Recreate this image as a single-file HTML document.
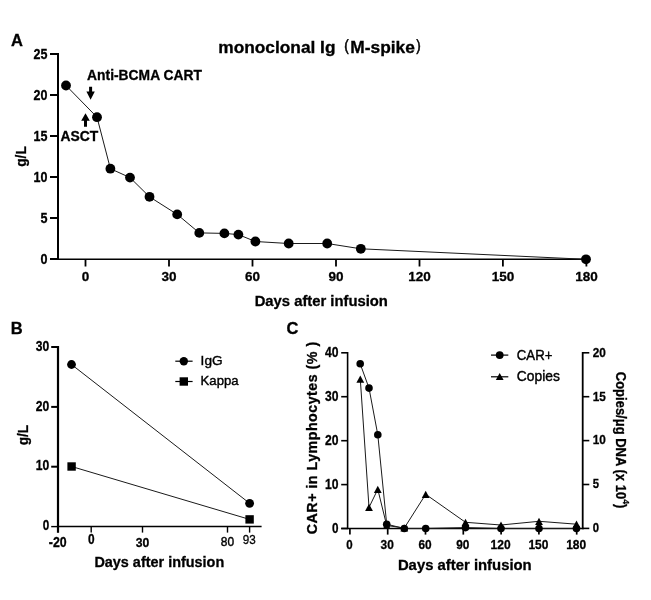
<!DOCTYPE html>
<html lang="en">
<head>
<meta charset="utf-8">
<title>monoclonal Ig (M-spike) figure</title>
<style>
html, body { margin: 0; padding: 0; background: #ffffff; }
body { width: 651px; height: 600px; overflow: hidden; }
svg { display: block; will-change: transform; }
svg text { font-family: "Liberation Sans", sans-serif; fill: #000; }
svg text[font-weight="bold"] { stroke: #000; stroke-width: 0.3px; }
</style>
</head>
<body>
<svg width="651" height="600" viewBox="0 0 651 600">
<rect x="0" y="0" width="651" height="600" fill="#ffffff"/>
<g id="panelA">
<text x="11.0" y="45.8" font-size="16.5" font-weight="bold" text-anchor="start">A</text>
<text x="218.3" y="53" font-size="16" font-weight="bold" text-anchor="start" textLength="117.2" lengthAdjust="spacingAndGlyphs">monoclonal Ig</text>
<text x="333.9" y="51.2" font-size="17" font-weight="normal" stroke="#000" stroke-width="0.5" font-family="&quot;Liberation Sans&quot;, &quot;Noto Sans CJK SC&quot;, sans-serif">（</text>
<text x="350.3" y="53" font-size="16" font-weight="bold" text-anchor="start" textLength="64.5" lengthAdjust="spacingAndGlyphs">M-spike</text>
<text x="414.4" y="51.2" font-size="17" font-weight="normal" stroke="#000" stroke-width="0.5" font-family="&quot;Liberation Sans&quot;, &quot;Noto Sans CJK SC&quot;, sans-serif">）</text>
<line x1="58" y1="53" x2="58" y2="260" stroke="#000" stroke-width="2" stroke-linecap="butt"/>
<line x1="50" y1="259.0" x2="58" y2="259.0" stroke="#000" stroke-width="2" stroke-linecap="butt"/>
<text x="47.4" y="263.8" font-size="14" font-weight="bold" text-anchor="end" textLength="7.0" lengthAdjust="spacingAndGlyphs">0</text>
<line x1="50" y1="218.0" x2="58" y2="218.0" stroke="#000" stroke-width="2" stroke-linecap="butt"/>
<text x="47.4" y="222.8" font-size="14" font-weight="bold" text-anchor="end" textLength="7.0" lengthAdjust="spacingAndGlyphs">5</text>
<line x1="50" y1="177.0" x2="58" y2="177.0" stroke="#000" stroke-width="2" stroke-linecap="butt"/>
<text x="47.4" y="181.8" font-size="14" font-weight="bold" text-anchor="end" textLength="13.9" lengthAdjust="spacingAndGlyphs">10</text>
<line x1="50" y1="136.0" x2="58" y2="136.0" stroke="#000" stroke-width="2" stroke-linecap="butt"/>
<text x="47.4" y="140.8" font-size="14" font-weight="bold" text-anchor="end" textLength="13.9" lengthAdjust="spacingAndGlyphs">15</text>
<line x1="50" y1="95.0" x2="58" y2="95.0" stroke="#000" stroke-width="2" stroke-linecap="butt"/>
<text x="47.4" y="99.8" font-size="14" font-weight="bold" text-anchor="end" textLength="13.9" lengthAdjust="spacingAndGlyphs">20</text>
<line x1="50" y1="54.00000000000003" x2="58" y2="54.00000000000003" stroke="#000" stroke-width="2" stroke-linecap="butt"/>
<text x="47.4" y="58.8" font-size="14" font-weight="bold" text-anchor="end" textLength="13.9" lengthAdjust="spacingAndGlyphs">25</text>
<line x1="57" y1="259.3" x2="587" y2="259.3" stroke="#000" stroke-width="1.6" stroke-linecap="butt"/>
<line x1="85.5" y1="259" x2="85.5" y2="266.5" stroke="#000" stroke-width="1.8" stroke-linecap="butt"/>
<text x="85.5" y="280.9" font-size="13.5" font-weight="bold" text-anchor="middle">0</text>
<line x1="169.0" y1="259" x2="169.0" y2="266.5" stroke="#000" stroke-width="1.8" stroke-linecap="butt"/>
<text x="169.0" y="280.9" font-size="13.5" font-weight="bold" text-anchor="middle">30</text>
<line x1="252.5" y1="259" x2="252.5" y2="266.5" stroke="#000" stroke-width="1.8" stroke-linecap="butt"/>
<text x="252.5" y="280.9" font-size="13.5" font-weight="bold" text-anchor="middle">60</text>
<line x1="336.0" y1="259" x2="336.0" y2="266.5" stroke="#000" stroke-width="1.8" stroke-linecap="butt"/>
<text x="336.0" y="280.9" font-size="13.5" font-weight="bold" text-anchor="middle">90</text>
<line x1="419.5" y1="259" x2="419.5" y2="266.5" stroke="#000" stroke-width="1.8" stroke-linecap="butt"/>
<text x="419.5" y="280.9" font-size="13.5" font-weight="bold" text-anchor="middle">120</text>
<line x1="502.9" y1="259" x2="502.9" y2="266.5" stroke="#000" stroke-width="1.8" stroke-linecap="butt"/>
<text x="502.9" y="280.9" font-size="13.5" font-weight="bold" text-anchor="middle">150</text>
<line x1="586.4" y1="259" x2="586.4" y2="266.5" stroke="#000" stroke-width="1.8" stroke-linecap="butt"/>
<text x="586.4" y="280.9" font-size="13.5" font-weight="bold" text-anchor="middle">180</text>
<text x="25.7" y="166.8" font-size="15" font-weight="bold" text-anchor="start" textLength="20.6" lengthAdjust="spacingAndGlyphs" transform="rotate(-90 25.7 166.8)">g/L</text>
<text x="254.7" y="306.1" font-size="14" font-weight="bold" text-anchor="start" textLength="133.2" lengthAdjust="spacingAndGlyphs">Days after infusion</text>
<polyline points="66,85.5 97,117.2 110.4,168.7 130,177.6 149.5,196.8 177.2,214.4 199.3,232.9 224.4,233.4 238.4,234.6 255.4,241.5 288.7,243.5 327.2,243.5 360.8,248.8 586,259.3" fill="none" stroke="#1a1a1a" stroke-width="1.0" stroke-linejoin="round"/>
<circle cx="66" cy="85.5" r="4.9"/>
<circle cx="97" cy="117.2" r="4.9"/>
<circle cx="110.4" cy="168.7" r="4.9"/>
<circle cx="130" cy="177.6" r="4.9"/>
<circle cx="149.5" cy="196.8" r="4.9"/>
<circle cx="177.2" cy="214.4" r="4.9"/>
<circle cx="199.3" cy="232.9" r="4.9"/>
<circle cx="224.4" cy="233.4" r="4.9"/>
<circle cx="238.4" cy="234.6" r="4.9"/>
<circle cx="255.4" cy="241.5" r="4.9"/>
<circle cx="288.7" cy="243.5" r="4.9"/>
<circle cx="327.2" cy="243.5" r="4.9"/>
<circle cx="360.8" cy="248.8" r="4.9"/>
<circle cx="586" cy="259.3" r="4.9"/>
<text x="87.1" y="79.8" font-size="14" font-weight="bold" text-anchor="start" textLength="114.8" lengthAdjust="spacingAndGlyphs">Anti-BCMA CART</text>
<text x="60.5" y="140.8" font-size="14" font-weight="bold" text-anchor="start" textLength="37.8" lengthAdjust="spacingAndGlyphs">ASCT</text>
<polygon points="89.1,86.7 92.1,86.7 92.1,91.5 94.8,91.5 90.6,99.8 86.4,91.5 89.1,91.5"/>
<polygon points="84,126.8 87,126.8 87,120.8 89.8,120.8 85.5,113.3 81.2,120.8 84,120.8"/>
</g>
<g id="panelB">
<text x="10.8" y="333.8" font-size="16.5" font-weight="bold" text-anchor="start">B</text>
<line x1="58" y1="346" x2="58" y2="532.8" stroke="#000" stroke-width="2.2" stroke-linecap="butt"/>
<line x1="51.2" y1="347.0" x2="58" y2="347.0" stroke="#000" stroke-width="2" stroke-linecap="butt"/>
<text x="49.2" y="350.7" font-size="14" font-weight="bold" text-anchor="end" textLength="13.5" lengthAdjust="spacingAndGlyphs">30</text>
<line x1="51.2" y1="406.9" x2="58" y2="406.9" stroke="#000" stroke-width="2" stroke-linecap="butt"/>
<text x="49.2" y="410.6" font-size="14" font-weight="bold" text-anchor="end" textLength="13.5" lengthAdjust="spacingAndGlyphs">20</text>
<line x1="51.2" y1="466.7" x2="58" y2="466.7" stroke="#000" stroke-width="2" stroke-linecap="butt"/>
<text x="49.2" y="470.4" font-size="14" font-weight="bold" text-anchor="end" textLength="13.5" lengthAdjust="spacingAndGlyphs">10</text>
<line x1="51.2" y1="526.6" x2="58" y2="526.6" stroke="#000" stroke-width="1.4" stroke-linecap="butt"/>
<text x="49.2" y="530.3" font-size="14" font-weight="bold" text-anchor="end" textLength="6.5" lengthAdjust="spacingAndGlyphs">0</text>
<line x1="57" y1="526.6" x2="261.6" y2="526.6" stroke="#000" stroke-width="1.5" stroke-linecap="butt"/>
<line x1="91.2" y1="526.6" x2="91.2" y2="532.6" stroke="#000" stroke-width="1.4" stroke-linecap="butt"/>
<line x1="142.5" y1="526.6" x2="142.5" y2="532.6" stroke="#000" stroke-width="1.4" stroke-linecap="butt"/>
<line x1="227.5" y1="526.6" x2="227.5" y2="532.6" stroke="#000" stroke-width="1.4" stroke-linecap="butt"/>
<line x1="249.6" y1="526.6" x2="249.6" y2="532.6" stroke="#000" stroke-width="1.4" stroke-linecap="butt"/>
<text x="48.8" y="546.6" font-size="14" font-weight="bold" text-anchor="start" textLength="17.8" lengthAdjust="spacingAndGlyphs">-20</text>
<text x="91.3" y="543.5" font-size="14" font-weight="bold" text-anchor="middle" textLength="6.6" lengthAdjust="spacingAndGlyphs">0</text>
<text x="142.6" y="546.5" font-size="13.6" font-weight="bold" text-anchor="middle" textLength="13.6" lengthAdjust="spacingAndGlyphs">30</text>
<text x="227.4" y="546" font-size="13.6" font-weight="normal" text-anchor="middle" textLength="13.3" lengthAdjust="spacingAndGlyphs" stroke="#000" stroke-width="0.45">80</text>
<text x="249.3" y="543.7" font-size="13.6" font-weight="normal" text-anchor="middle" textLength="13" lengthAdjust="spacingAndGlyphs" stroke="#000" stroke-width="0.3">93</text>
<text x="28.2" y="445.3" font-size="15" font-weight="bold" text-anchor="start" textLength="20.4" lengthAdjust="spacingAndGlyphs" transform="rotate(-90 28.2 445.3)">g/L</text>
<text x="94.4" y="567.1" font-size="14.6" font-weight="bold" text-anchor="start" textLength="129.8" lengthAdjust="spacingAndGlyphs">Days after infusion</text>
<polyline points="71.5,364.5 249.6,503.3" fill="none" stroke="#1a1a1a" stroke-width="1.0" stroke-linejoin="round"/>
<polyline points="71.6,466.5 249.6,519.4" fill="none" stroke="#1a1a1a" stroke-width="1.0" stroke-linejoin="round"/>
<circle cx="71.5" cy="364.5" r="4.4"/>
<circle cx="249.6" cy="503.3" r="4.4"/>
<rect x="67.39999999999999" y="462.3" width="8.4" height="8.4"/>
<rect x="245.4" y="515.1999999999999" width="8.4" height="8.4"/>
<line x1="175.3" y1="361.2" x2="192.6" y2="361.2" stroke="#000" stroke-width="1.2" stroke-linecap="butt"/>
<circle cx="183.8" cy="361.2" r="4.2"/>
<text x="200.6" y="365" font-size="13.6" font-weight="normal" text-anchor="start" textLength="22" lengthAdjust="spacingAndGlyphs" stroke="#000" stroke-width="0.4">IgG</text>
<line x1="175.3" y1="381.5" x2="192.6" y2="381.5" stroke="#000" stroke-width="1.2" stroke-linecap="butt"/>
<rect x="179.60000000000002" y="377.3" width="8.4" height="8.4"/>
<text x="200.6" y="385.3" font-size="13.6" font-weight="normal" text-anchor="start" textLength="38" lengthAdjust="spacingAndGlyphs" stroke="#000" stroke-width="0.4">Kappa</text>
</g>
<g id="panelC">
<text x="286.5" y="333.9" font-size="16.5" font-weight="bold" text-anchor="start">C</text>
<line x1="347.6" y1="352" x2="347.6" y2="529.2" stroke="#000" stroke-width="1.6" stroke-linecap="butt"/>
<line x1="341.2" y1="352.8" x2="347.6" y2="352.8" stroke="#000" stroke-width="1.6" stroke-linecap="butt"/>
<text x="338.4" y="356.9" font-size="13.8" font-weight="bold" text-anchor="end" textLength="13.5" lengthAdjust="spacingAndGlyphs">40</text>
<line x1="341.2" y1="396.7" x2="347.6" y2="396.7" stroke="#000" stroke-width="1.6" stroke-linecap="butt"/>
<text x="338.4" y="400.8" font-size="13.8" font-weight="bold" text-anchor="end" textLength="13.5" lengthAdjust="spacingAndGlyphs">30</text>
<line x1="341.2" y1="440.7" x2="347.6" y2="440.7" stroke="#000" stroke-width="1.6" stroke-linecap="butt"/>
<text x="338.4" y="444.8" font-size="13.8" font-weight="bold" text-anchor="end" textLength="13.5" lengthAdjust="spacingAndGlyphs">20</text>
<line x1="341.2" y1="484.6" x2="347.6" y2="484.6" stroke="#000" stroke-width="1.6" stroke-linecap="butt"/>
<text x="338.4" y="488.7" font-size="13.8" font-weight="bold" text-anchor="end" textLength="13.5" lengthAdjust="spacingAndGlyphs">10</text>
<line x1="341.2" y1="528.5" x2="347.6" y2="528.5" stroke="#000" stroke-width="1.6" stroke-linecap="butt"/>
<text x="338.4" y="532.6" font-size="13.8" font-weight="bold" text-anchor="end" textLength="6.5" lengthAdjust="spacingAndGlyphs">0</text>
<line x1="582.7" y1="352" x2="582.7" y2="529.2" stroke="#000" stroke-width="1.8" stroke-linecap="butt"/>
<line x1="582.7" y1="352.8" x2="589.3" y2="352.8" stroke="#000" stroke-width="1.6" stroke-linecap="butt"/>
<text x="592.8" y="356.6" font-size="13.2" font-weight="bold" text-anchor="start" textLength="13.1" lengthAdjust="spacingAndGlyphs">20</text>
<line x1="582.7" y1="396.7" x2="589.3" y2="396.7" stroke="#000" stroke-width="1.6" stroke-linecap="butt"/>
<text x="592.8" y="400.5" font-size="13.2" font-weight="bold" text-anchor="start" textLength="13.1" lengthAdjust="spacingAndGlyphs">15</text>
<line x1="582.7" y1="440.6" x2="589.3" y2="440.6" stroke="#000" stroke-width="1.6" stroke-linecap="butt"/>
<text x="592.8" y="444.4" font-size="13.2" font-weight="bold" text-anchor="start" textLength="13.1" lengthAdjust="spacingAndGlyphs">10</text>
<line x1="582.7" y1="484.5" x2="589.3" y2="484.5" stroke="#000" stroke-width="1.6" stroke-linecap="butt"/>
<text x="592.8" y="488.3" font-size="13.2" font-weight="bold" text-anchor="start" textLength="6.3" lengthAdjust="spacingAndGlyphs">5</text>
<line x1="582.7" y1="528.4" x2="589.3" y2="528.4" stroke="#000" stroke-width="1.6" stroke-linecap="butt"/>
<text x="592.8" y="532.2" font-size="13.2" font-weight="bold" text-anchor="start" textLength="6.3" lengthAdjust="spacingAndGlyphs">0</text>
<line x1="341.2" y1="528.5" x2="583.6" y2="528.5" stroke="#000" stroke-width="1.4" stroke-linecap="butt"/>
<line x1="349.9" y1="528.5" x2="349.9" y2="534.6" stroke="#000" stroke-width="1.7" stroke-linecap="butt"/>
<text x="349.4" y="548.9" font-size="13.2" font-weight="bold" text-anchor="middle" textLength="6.4" lengthAdjust="spacingAndGlyphs">0</text>
<line x1="387.7" y1="528.5" x2="387.7" y2="534.6" stroke="#000" stroke-width="1.7" stroke-linecap="butt"/>
<text x="387.2" y="548.9" font-size="13.2" font-weight="bold" text-anchor="middle" textLength="13.2" lengthAdjust="spacingAndGlyphs">30</text>
<line x1="425.5" y1="528.5" x2="425.5" y2="534.6" stroke="#000" stroke-width="1.7" stroke-linecap="butt"/>
<text x="425.0" y="548.9" font-size="13.2" font-weight="bold" text-anchor="middle" textLength="13.2" lengthAdjust="spacingAndGlyphs">60</text>
<line x1="463.3" y1="528.5" x2="463.3" y2="534.6" stroke="#000" stroke-width="1.7" stroke-linecap="butt"/>
<text x="462.8" y="548.9" font-size="13.2" font-weight="bold" text-anchor="middle" textLength="13.2" lengthAdjust="spacingAndGlyphs">90</text>
<line x1="501.1" y1="528.5" x2="501.1" y2="534.6" stroke="#000" stroke-width="1.7" stroke-linecap="butt"/>
<text x="500.6" y="548.9" font-size="13.2" font-weight="bold" text-anchor="middle" textLength="20" lengthAdjust="spacingAndGlyphs">120</text>
<line x1="538.9" y1="528.5" x2="538.9" y2="534.6" stroke="#000" stroke-width="1.7" stroke-linecap="butt"/>
<text x="538.4" y="548.9" font-size="13.2" font-weight="bold" text-anchor="middle" textLength="20" lengthAdjust="spacingAndGlyphs">150</text>
<line x1="576.7" y1="528.5" x2="576.7" y2="534.6" stroke="#000" stroke-width="1.7" stroke-linecap="butt"/>
<text x="576.2" y="548.9" font-size="13.2" font-weight="bold" text-anchor="middle" textLength="20" lengthAdjust="spacingAndGlyphs">180</text>
<text x="317.4" y="534.2" font-size="14.3" font-weight="bold" textLength="192.4" lengthAdjust="spacing" transform="rotate(-90 317.4 534.2)">CAR+ in Lymphocytes (% )</text>
<text x="397.9" y="570.3" font-size="14.6" font-weight="bold" text-anchor="start" textLength="133.8" lengthAdjust="spacingAndGlyphs">Days after infusion</text>
<text x="616.2" y="371.8" font-size="14" font-weight="bold" textLength="136.6" lengthAdjust="spacingAndGlyphs" transform="rotate(90 616.2 371.8)">Copies/μg DNA (x 10<tspan font-size="9.5" dy="-6.5">4</tspan><tspan dy="6.5">)</tspan></text>
<polyline points="360.2,363.8 369,388.1 377.8,434.8 386.7,524.2 404.3,528.5 425.7,528.5 465.5,527.6 501,528.5 539,528.5 576.5,528.5" fill="none" stroke="#1a1a1a" stroke-width="1.0" stroke-linejoin="round"/>
<polyline points="360.3,379.2 369,507.4 377.8,489.3 386.7,525.5 404.3,528 425.7,494.3 465.5,522.3 501,525 539,521.3 576.5,524.2" fill="none" stroke="#1a1a1a" stroke-width="1.0" stroke-linejoin="round"/>
<circle cx="360.2" cy="363.8" r="3.8"/>
<circle cx="369" cy="388.1" r="3.8"/>
<circle cx="377.8" cy="434.8" r="3.8"/>
<circle cx="386.7" cy="524.2" r="3.8"/>
<circle cx="404.3" cy="528.5" r="3.8"/>
<circle cx="425.7" cy="528.5" r="3.8"/>
<circle cx="465.5" cy="527.6" r="3.8"/>
<circle cx="501" cy="528.5" r="3.8"/>
<circle cx="539" cy="528.5" r="3.8"/>
<circle cx="576.5" cy="528.5" r="3.8"/>
<polygon points="360.3,375.59999999999997 364.2,382.8 356.40000000000003,382.8"/>
<polygon points="369,503.79999999999995 372.9,511.0 365.1,511.0"/>
<polygon points="377.8,485.7 381.7,492.90000000000003 373.90000000000003,492.90000000000003"/>
<polygon points="386.7,521.9 390.59999999999997,529.1 382.8,529.1"/>
<polygon points="404.3,524.4 408.2,531.6 400.40000000000003,531.6"/>
<polygon points="425.7,490.7 429.59999999999997,497.90000000000003 421.8,497.90000000000003"/>
<polygon points="465.5,518.6999999999999 469.4,525.9 461.6,525.9"/>
<polygon points="501,521.4 504.9,528.6 497.1,528.6"/>
<polygon points="539,517.6999999999999 542.9,524.9 535.1,524.9"/>
<polygon points="576.5,520.6 580.4,527.8000000000001 572.6,527.8000000000001"/>
<line x1="491" y1="355.1" x2="508.3" y2="355.1" stroke="#000" stroke-width="1.2" stroke-linecap="butt"/>
<circle cx="499.7" cy="355.1" r="3.9"/>
<text x="516.8" y="359.6" font-size="13.8" font-weight="normal" text-anchor="start" textLength="35.6" lengthAdjust="spacingAndGlyphs" stroke="#000" stroke-width="0.4">CAR+</text>
<line x1="491" y1="376.8" x2="508.3" y2="376.8" stroke="#000" stroke-width="1.2" stroke-linecap="butt"/>
<polygon points="499.7,372.9 503.59999999999997,380.1 495.8,380.1"/>
<text x="516.8" y="380.6" font-size="13.8" font-weight="normal" text-anchor="start" textLength="43" lengthAdjust="spacingAndGlyphs" stroke="#000" stroke-width="0.4">Copies</text>
</g>
</svg>
</body>
</html>
